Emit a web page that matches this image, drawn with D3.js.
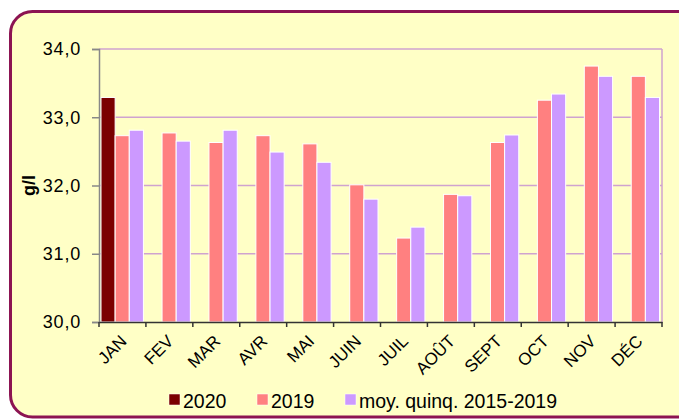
<!DOCTYPE html>
<html>
<head>
<meta charset="utf-8">
<script src="https://cdn.jsdelivr.net/npm/d3@7"></script>
<style>
  body { margin: 0; background: #fff; }
  svg { display: block; font-family: "Liberation Sans", Arial, sans-serif; }
</style>
</head>
<body>
<div id="chart"></div>
<script>
// Data
var months = ['JAN', 'FEV', 'MAR', 'AVR', 'MAI', 'JUIN', 'JUIL', 'AOÛT', 'SEPT', 'OCT', 'NOV', 'DÉC'];
var values2020 = [33.29, null, null, null, null, null, null, null, null, null, null, null];
var values2019 = [32.73, 32.77, 32.63, 32.73, 32.61, 32.01, 31.23, 31.87, 32.63, 33.25, 33.75, 33.60];
var valuesAvg = [32.81, 32.65, 32.81, 32.49, 32.34, 31.80, 31.39, 31.85, 32.74, 33.34, 33.60, 33.29];
var seriesNames = ['2020', '2019', 'moy. quinq. 2015-2019'];
var yTicks = [30, 31, 32, 33, 34];

var width = 679,
    height = 419,
    colors = ['#7b0000', '#ff8080', '#cc99ff'],
    margin = { left: 99, right: 17, top: 49, bottom: 97 };

var chartWidth = width - margin.left - margin.right;
var chartHeight = height - margin.top - margin.bottom;

var data = months.map(function(m, i) {
    return { month: m, values: [values2020[i], values2019[i], valuesAvg[i]] };
});

var svg = d3.select('#chart').append('svg')
    .attr('width', width)
    .attr('height', height);

// Outer rounded frame
svg.append('rect')
    .attr('x', 10.5)
    .attr('y', 11.5)
    .attr('width', 690)
    .attr('height', 405.5)
    .attr('rx', 22)
    .attr('fill', '#ffffc6')
    .attr('stroke', '#8c1452')
    .attr('stroke-width', 3);

var xScale = d3.scaleBand().domain(months).range([0, chartWidth]);
var x1 = d3.scaleBand().domain([0, 1, 2]).range([2, xScale.bandwidth() - 2.5]);
var yScale = d3.scaleLinear().domain([30, 34]).range([chartHeight, 0]);

var g = svg.append('g')
    .attr('transform', 'translate(' + margin.left + ',' + margin.top + ')');

// gridlines
g.append('g')
    .selectAll('line')
    .data(yTicks.slice(1))
    .enter().append('line')
    .attr('x1', 0)
    .attr('x2', chartWidth)
    .attr('y1', (d) => yScale(d))
    .attr('y2', (d) => yScale(d))
    .attr('stroke', '#cfa3cf')
    .attr('stroke-width', 1.5);

// right border of plot area
g.append('line')
    .attr('x1', chartWidth).attr('x2', chartWidth)
    .attr('y1', 0).attr('y2', chartHeight)
    .attr('stroke', '#cfa3cf')
    .attr('stroke-width', 1.5);

// bars
var groups = g.append('g')
    .selectAll('g')
    .data(data)
    .enter().append('g')
    .attr('transform', (d) => 'translate(' + xScale(d.month) + ',0)');

groups.selectAll('rect')
    .data((d) => d.values.map((v, i) => ({ v: v, i: i })).filter((e) => e.v != null))
    .enter().append('rect')
    .attr('x', (d) => x1(d.i))
    .attr('width', x1.bandwidth())
    .attr('y', (d) => yScale(d.v))
    .attr('height', (d) => chartHeight - yScale(d.v))
    .attr('fill', (d) => colors[d.i])
    .attr('stroke', '#ffffff')
    .attr('stroke-width', 1);

// y axis
var yAxis = d3.axisLeft(yScale)
    .tickValues(yTicks)
    .tickSize(7)
    .tickPadding(11)
    .tickFormat((d) => d3.format('.1f')(d).replace('.', ','));

var yG = g.append('g').call(yAxis);
yG.select('.domain').attr('stroke', '#888888').attr('stroke-width', 1.5);
yG.selectAll('.tick line').attr('stroke', '#888888').attr('stroke-width', 1.5);
yG.selectAll('.tick text')
    .attr('font-size', 18)
    .attr('letter-spacing', 0.8)
    .attr('fill', '#000')
    .style('font-family', '"Liberation Sans", Arial, sans-serif');

// x axis
var xAxis = d3.axisBottom(xScale).tickSize(0).tickSizeOuter(0).tickFormat('');
var xG = g.append('g')
    .attr('transform', 'translate(0,' + chartHeight + ')')
    .call(xAxis);
xG.select('.domain').attr('stroke', '#333333').attr('stroke-width', 1.5);

// tick marks at band boundaries
xG.selectAll('.bound')
    .data(d3.range(months.length + 1))
    .enter().append('line')
    .attr('class', 'bound')
    .attr('x1', (i) => i * xScale.step())
    .attr('x2', (i) => i * xScale.step())
    .attr('y1', 0)
    .attr('y2', 5)
    .attr('stroke', '#333333')
    .attr('stroke-width', 1.5);

// rotated month labels
xG.selectAll('.mlabel')
    .data(months)
    .enter().append('text')
    .attr('class', 'mlabel')
    .attr('transform', (d) => 'translate(' + (xScale(d) + xScale.bandwidth() / 2 + 1) + ',16) rotate(-45)')
    .attr('text-anchor', 'end')
    .attr('dy', '0.35em')
    .attr('font-size', 17)
    .attr('fill', '#000')
    .text((d) => d);

// y title
svg.append('text')
    .attr('transform', 'translate(35,' + (margin.top + chartHeight / 2) + ') rotate(-90)')
    .attr('text-anchor', 'middle')
    .attr('font-size', 18)
    .attr('font-weight', 'bold')
    .text('g/l');

// legend
var legendX = [169, 257, 345];
var legend = svg.append('g')
    .selectAll('g')
    .data(seriesNames)
    .enter().append('g')
    .attr('transform', (d, i) => 'translate(' + legendX[i] + ',394)');

legend.append('rect')
    .attr('width', 11)
    .attr('height', 11)
    .attr('fill', (d, i) => colors[i])
    .attr('stroke', '#ffffff')
    .attr('stroke-width', 0.5);

legend.append('text')
    .attr('x', 14)
    .attr('y', 13.5)
    .attr('font-size', 19.5)
    .attr('fill', '#000')
    .text((d) => d);
</script>
</body>
</html>
